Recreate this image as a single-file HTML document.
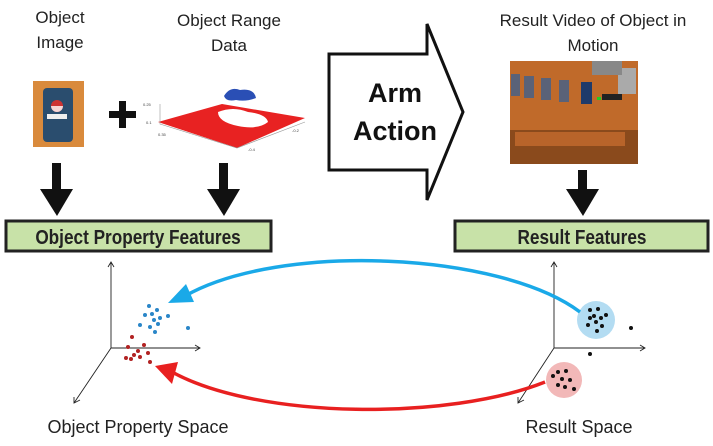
<!DOCTYPE html>
<html><head><meta charset="utf-8"><style>
html,body{margin:0;padding:0;background:#fff}
svg{display:block}
text{font-family:"Liberation Sans",sans-serif}
</style></head><body>
<svg width="713" height="446" viewBox="0 0 713 446" xmlns="http://www.w3.org/2000/svg">
<!-- top labels -->
<g font-size="17" fill="#222" text-anchor="middle">
<text x="60" y="23">Object</text><text x="60" y="48">Image</text>
<text x="229" y="26">Object Range</text><text x="229" y="51">Data</text>
<text x="593" y="26">Result Video of Object in</text><text x="593" y="51">Motion</text>
</g>
<!-- can image -->
<rect x="33" y="81" width="51" height="66" fill="#d98a3c"/>
<rect x="43" y="88" width="30" height="54" rx="4" fill="#2a4d6e"/>
<circle cx="57" cy="106" r="6" fill="#c33"/><path d="M51,106 a6,6 0 0 0 12,0z" fill="#fff" opacity=".8"/>
<rect x="47" y="114" width="20" height="5" fill="#eee"/>
<!-- plus -->
<rect x="109" y="111" width="27" height="7" fill="#111"/><rect x="119" y="101" width="7" height="27" fill="#111"/>
<!-- range plot -->
<polygon points="158,122 222,104 305,118 237,148" fill="#e82222"/>
<path d="M218,112 q15,-6 30,0 q18,2 20,10 q-10,8 -30,4 q-20,-4 -20,-14z" fill="#fff"/>
<path d="M224,96 q6,-10 16,-6 q14,-2 16,8 q-10,4 -20,2 q-10,2 -12,-4z" fill="#2a4fb5"/>
<polyline points="160,104 160,124 237,148 305,122" fill="none" stroke="#999" stroke-width="0.6"/>
<g font-size="4" fill="#444"><text x="143" y="106">0.25</text><text x="146" y="124">0.1</text><text x="158" y="136">0.35</text><text x="248" y="151">-0.4</text><text x="292" y="132">-0.2</text></g>
<!-- big arrow -->
<polygon points="329,54 427,54 427,24 463,112 427,200 427,170 329,170" fill="#fff" stroke="#111" stroke-width="3"/>
<text x="395" y="102" font-size="27" font-weight="bold" text-anchor="middle" fill="#111">Arm</text>
<text x="395" y="140" font-size="27" font-weight="bold" text-anchor="middle" fill="#111">Action</text>
<!-- video image -->
<rect x="510" y="61" width="128" height="103" fill="#c06a2a"/>
<rect x="510" y="130" width="128" height="34" fill="#8a4a1c"/>
<rect x="515" y="132" width="110" height="14" fill="#b8642a"/>
<g fill="#5a6278"><rect x="511" y="74" width="9" height="22"/><rect x="524" y="76" width="10" height="22"/><rect x="541" y="78" width="10" height="22"/><rect x="559" y="80" width="10" height="22"/></g>
<rect x="581" y="82" width="11" height="22" fill="#1e3a6a"/>
<rect x="597" y="97" width="4" height="3" fill="#2c2"/>
<rect x="602" y="94" width="20" height="6" fill="#222"/>
<rect x="618" y="68" width="18" height="26" fill="#aaa"/><rect x="592" y="61" width="30" height="14" fill="#888"/>
<!-- down arrows -->
<g fill="#111">
<rect x="52" y="163" width="9" height="30"/><polygon points="40,189 73,189 57,216"/>
<rect x="219" y="163" width="9" height="30"/><polygon points="207,189 240,189 224,216"/>
<rect x="578" y="170" width="9" height="23"/><polygon points="566,189 599,189 583,216"/>
</g>
<!-- green boxes -->
<rect x="6" y="221" width="265" height="30" fill="#c8e2a8" stroke="#222" stroke-width="3"/>
<text transform="translate(138,244) scale(0.86,1)" font-size="20" font-weight="bold" text-anchor="middle" fill="#222">Object Property Features</text>
<rect x="455" y="221" width="253" height="30" fill="#c8e2a8" stroke="#222" stroke-width="3"/>
<text transform="translate(582,244) scale(0.86,1)" font-size="20" font-weight="bold" text-anchor="middle" fill="#222">Result Features</text>
<!-- axes -->
<g stroke="#222" stroke-width="0.9" fill="none">
<path d="M111,348 V262 M108,267 L111,262 L114,267"/>
<path d="M111,348 H200 M195,345 L200,348 L195,351"/>
<path d="M111,348 L74,403 M74,397 L74,403 L80,400"/>
<path d="M554,348 V262 M551,267 L554,262 L557,267"/>
<path d="M554,348 H645 M640,345 L645,348 L640,351"/>
<path d="M554,348 L518,403 M518,397 L518,403 L524,400"/>
</g>
<!-- clusters -->
<circle cx="596" cy="320" r="19" fill="#b3dcf2"/>
<circle cx="564" cy="380" r="18" fill="#f2b8b8"/>
<g fill="#111">
<circle cx="590" cy="310" r="2"/><circle cx="598" cy="309" r="2"/><circle cx="594" cy="316" r="2"/><circle cx="601" cy="318" r="2"/><circle cx="606" cy="315" r="2"/><circle cx="596" cy="322" r="2"/><circle cx="588" cy="325" r="2"/><circle cx="602" cy="326" r="2"/><circle cx="597" cy="331" r="2"/><circle cx="590" cy="318" r="2"/>
<circle cx="631" cy="328" r="2"/><circle cx="590" cy="354" r="2"/>
<circle cx="558" cy="372" r="2"/><circle cx="566" cy="371" r="2"/><circle cx="562" cy="379" r="2"/><circle cx="570" cy="380" r="2"/><circle cx="558" cy="385" r="2"/><circle cx="565" cy="387" r="2"/><circle cx="574" cy="389" r="2"/><circle cx="553" cy="376" r="2"/>
</g>
<g fill="#2a86c8">
<circle cx="149" cy="306" r="2"/><circle cx="157" cy="310" r="2"/><circle cx="145" cy="315" r="2"/><circle cx="152" cy="314" r="2"/><circle cx="160" cy="318" r="2"/><circle cx="168" cy="316" r="2"/><circle cx="154" cy="320" r="2"/><circle cx="140" cy="325" r="2"/><circle cx="150" cy="327" r="2"/><circle cx="158" cy="324" r="2"/><circle cx="155" cy="332" r="2"/><circle cx="188" cy="328" r="2"/>
</g>
<g fill="#b22222">
<circle cx="132" cy="337" r="2"/><circle cx="144" cy="345" r="2"/><circle cx="128" cy="347" r="2"/><circle cx="138" cy="351" r="2"/><circle cx="134" cy="355" r="2"/><circle cx="140" cy="357" r="2"/><circle cx="148" cy="353" r="2"/><circle cx="131" cy="359" r="2"/><circle cx="150" cy="362" r="2"/><circle cx="126" cy="358" r="2"/>
</g>
<!-- curved arrows -->
<path d="M580,312 C500,252 280,242 185,296" fill="none" stroke="#1aa9e8" stroke-width="3.5"/>
<polygon points="168,303 186,284 194,302" fill="#1aa9e8"/>
<path d="M545,382 C450,420 260,420 172,372" fill="none" stroke="#e82020" stroke-width="3.5"/>
<polygon points="155,366 178,362 172,384" fill="#e82020"/>
<!-- bottom labels -->
<text x="138" y="433" font-size="18" text-anchor="middle" fill="#222">Object Property Space</text>
<text x="579" y="433" font-size="18" text-anchor="middle" fill="#222">Result Space</text>
</svg>
</body></html>
